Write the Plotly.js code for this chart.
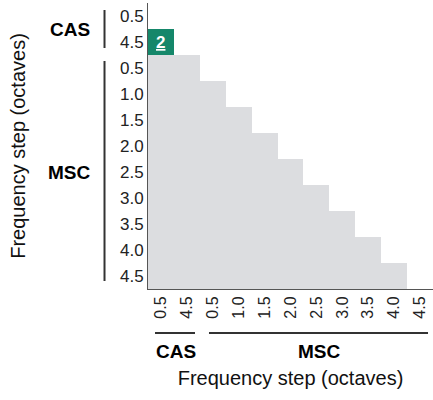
<!DOCTYPE html>
<html>
<head>
<meta charset="utf-8">
<script src="https://cdn.plot.ly/plotly-3.0.1.min.js"></script>
<style>html,body{margin:0;padding:0;background:#fff;}#chart{width:433px;height:400px;}</style>
</head>
<body>
<div id="chart"></div>
<script>
// Conditions (rows top->bottom, columns left->right)
const groups = ['CAS','CAS','MSC','MSC','MSC','MSC','MSC','MSC','MSC','MSC','MSC'];
const stepLabels = ['0.5','4.5','0.5','1.0','1.5','2.0','2.5','3.0','3.5','4.0','4.5'];
// Lower-triangle counts: row i lists columns 0..i-1
const counts = [
  [],
  [2],
  [0,0],
  [0,0,0],
  [0,0,0,0],
  [0,0,0,0,0],
  [0,0,0,0,0,0],
  [0,0,0,0,0,0,0],
  [0,0,0,0,0,0,0,0],
  [0,0,0,0,0,0,0,0,0],
  [0,0,0,0,0,0,0,0,0,0]
];

const n = stepLabels.length;
const idx = stepLabels.map((_, i) => i);
const z = idx.map(i => idx.map(j => (j < counts[i].length ? counts[i][j] : null)));

const gray = '#dcdde0';
const green = '#15876a';
const fam = 'Liberation Sans, Arial, sans-serif';

const annotations = [];
counts.forEach((row, i) => row.forEach((v, j) => {
  if (v > 0) annotations.push({
    x: j, y: i, xref: 'x', yref: 'y', text: '<u>' + v + '</u>', showarrow: false,
    font: {family: fam, size: 17, color: '#ffffff', weight: 'bold'}
  });
}));

// Group labels and brackets
const groupFont = {family: fam, size: 19, color: '#000', weight: 'bold'};
annotations.push(
  {xref: 'paper', yref: 'paper', x: -0.2737, y: 0.9056, text: '<b>CAS</b>', showarrow: false, xanchor: 'center', yanchor: 'middle', font: groupFont},
  {xref: 'paper', yref: 'paper', x: -0.2737, y: 0.409, text: '<b>MSC</b>', showarrow: false, xanchor: 'center', yanchor: 'middle', font: groupFont},
  {xref: 'paper', yref: 'paper', x: 0.0965, y: -0.2168, text: '<b>CAS</b>', showarrow: false, xanchor: 'center', yanchor: 'middle', font: groupFont},
  {xref: 'paper', yref: 'paper', x: 0.6, y: -0.2168, text: '<b>MSC</b>', showarrow: false, xanchor: 'center', yanchor: 'middle', font: groupFont}
);
const bline = {color: '#333', width: 2};
const shapes = [
  {type: 'line', xref: 'paper', yref: 'paper', x0: -0.1526, x1: -0.1526, y0: 0.9755, y1: 0.8427, line: bline},
  {type: 'line', xref: 'paper', yref: 'paper', x0: -0.1526, x1: -0.1526, y0: 0.7972, y1: 0.0280, line: bline},
  {type: 'line', xref: 'paper', yref: 'paper', x0: 0.0246, x1: 0.1649, y0: -0.1538, y1: -0.1538, line: bline},
  {type: 'line', xref: 'paper', yref: 'paper', x0: 0.2140, x1: 0.9825, y0: -0.1538, y1: -0.1538, line: bline}
];

const trace = {
  type: 'heatmap',
  x: idx, y: idx, z: z,
  zmin: 0, zmax: 2,
  colorscale: [[0, gray], [0.5, gray], [0.5, green], [1, green]],
  showscale: false,
  hoverongaps: false,
  xgap: 0, ygap: 0
};

const layout = {
  width: 433, height: 400,
  margin: {l: 148, r: 0, t: 3, b: 111, pad: 0},
  paper_bgcolor: '#fff', plot_bgcolor: '#fff',
  font: {family: fam},
  xaxis: {
    range: [-0.5, n - 0.5], tickvals: idx, ticktext: stepLabels, tickangle: -90,
    showgrid: false, zeroline: false, showline: true, linecolor: '#555', linewidth: 1,
    ticks: '', tickfont: {family: fam, size: 16, color: '#222'}, automargin: false, fixedrange: true,
    title: {text: 'Frequency step (octaves)', font: {family: fam, size: 20, color: '#111'}, standoff: 53}
  },
  yaxis: {
    range: [n - 0.5, -0.5], tickvals: idx, ticktext: stepLabels,
    showgrid: false, zeroline: false, showline: true, linecolor: '#555', linewidth: 1,
    ticks: '', tickfont: {family: fam, size: 17, color: '#222'}, automargin: false, fixedrange: true,
    title: {text: 'Frequency step (octaves)', font: {family: fam, size: 20, color: '#111'}, standoff: 88}
  },
  annotations: annotations,
  shapes: shapes,
  showlegend: false
};

Plotly.newPlot('chart', [trace], layout, {displayModeBar: false, staticPlot: true});
</script>
</body>
</html>
